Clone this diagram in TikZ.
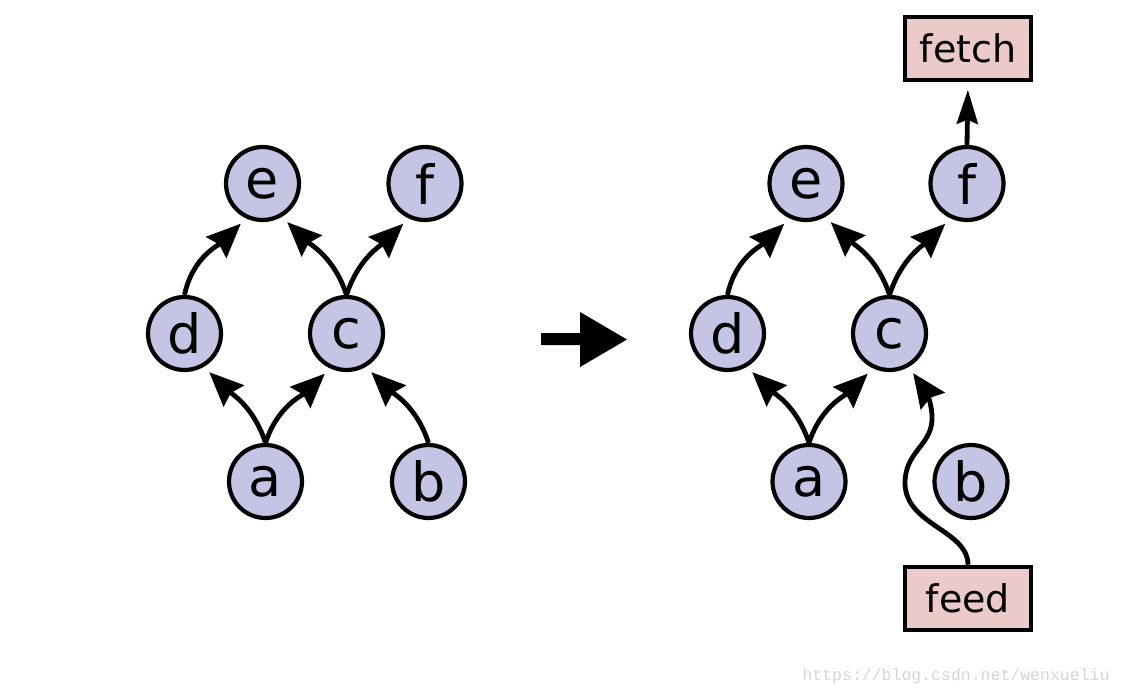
\documentclass[tikz,border=0pt]{standalone}
\usepackage{fontspec}
\setmainfont{DejaVu Sans}
\newfontfamily\wmfont{Liberation Mono}
\usetikzlibrary{arrows.meta}
\definecolor{nodefill}{RGB}{196,196,228}
\definecolor{boxfill}{RGB}{236,202,202}
\definecolor{wmgray}{RGB}{214,214,208}
\begin{document}
\begin{tikzpicture}[x=1pt,y=1pt,
  opnode/.style={circle,draw=black,line width=4.2pt,fill=nodefill,minimum size=73pt,inner sep=0pt,font=\fontsize{54}{60}\selectfont},
  iobox/.style={rectangle,draw=black,line width=4.5pt,fill=boxfill,minimum width=126pt,minimum height=63pt,inner sep=0pt,font=\fontsize{38}{44}\selectfont},
  edge/.style={line width=4.8pt,-{Stealth[length=34pt,width=29pt,inset=4pt]},shorten >=7.5pt},
  thinhead/.style={-{Stealth[length=34pt,width=21pt,inset=4pt]}}
]
\useasboundingbox (0,0) rectangle (1122,-696);
% left graph
\node[opnode] (e1) at (262.5,-183.5) {e};
\node[opnode] (f1) at (425,-183.5) {f};
\node[opnode] (d1) at (184.5,-333.5) {d};
\node[opnode] (c1) at (346.5,-333.5) {c};
\node[opnode] (a1) at (265.5,-481.5) {a};
\node[opnode] (b1) at (428.5,-481.5) {b};
\draw[edge] (d1.north) to[out=78,in=224] (e1.-115);
\draw[edge] (c1.north) to[out=108,in=-44] (e1.-60);
\draw[edge] (c1.north) to[out=72,in=224] (f1.-115);
\draw[edge] (a1.north) to[out=108,in=-44] (d1.-60);
\draw[edge] (a1.north) to[out=72,in=224] (c1.-115);
\draw[edge] (b1.north) to[out=108,in=-44] (c1.-60);
% big arrow
\fill (541,-333) -- (580,-333) -- (580,-312) -- (627,-339.5) -- (580,-367) -- (580,-345) -- (541,-345) -- cycle;
% right graph
\node[opnode] (e2) at (806,-183.5) {e};
\node[opnode] (f2) at (967,-183.5) {f};
\node[opnode] (d2) at (727.5,-333.5) {d};
\node[opnode] (c2) at (889.5,-333.5) {c};
\node[opnode] (a2) at (809,-481.5) {a};
\node[opnode] (b2) at (971,-481.5) {b};
\node[iobox] (fetch) at (968,-48.5) {fetch};
\node[iobox] (feed) at (968,-598.5) {feed};
\draw[edge] (d2.north) to[out=78,in=224] (e2.-115);
\draw[edge] (c2.north) to[out=108,in=-44] (e2.-60);
\draw[edge] (c2.north) to[out=72,in=224] (f2.-115);
\draw[edge] (a2.north) to[out=108,in=-44] (d2.-60);
\draw[edge] (a2.north) to[out=72,in=224] (c2.-115);
\draw[edge,thinhead] (f2.north) -- (fetch.south);
\draw[edge] (feed.north) .. controls (968,-530) and (905,-525) .. (905,-483)
  .. controls (905,-450) and (934,-445) .. (932,-415)
  .. controls (931,-400) and (925,-390) .. (c2.-60);
% watermark
\node[text=wmgray,font=\wmfont\fontsize{16.5}{18}\selectfont] (wm) at (956,-676) {https://blog.csdn.net/wenxueliu};
\end{tikzpicture}
\end{document}
